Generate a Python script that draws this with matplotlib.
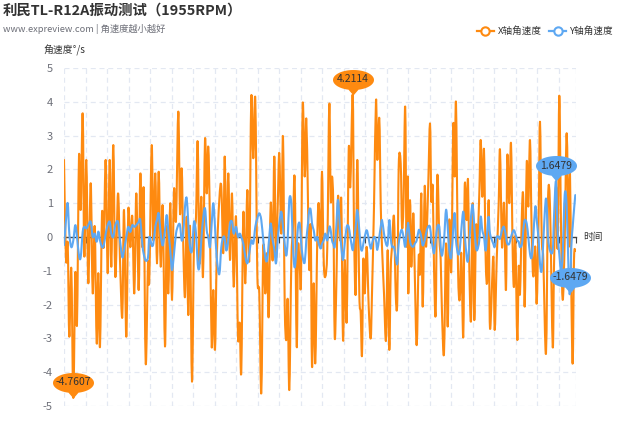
import numpy as np
import matplotlib
matplotlib.use("Agg")
import matplotlib.pyplot as plt
from matplotlib.path import Path
from matplotlib.patches import PathPatch
from matplotlib.lines import Line2D

plt.rcParams['font.family'] = ['Noto Sans CJK SC', 'DejaVu Sans']

title = "利民TL-R12A振动测试（1955RPM）"
subtitle = "www.expreview.com | 角速度越小越好"
series_names = ["X轴角速度", "Y轴角速度"]
y_name = "角速度°/s"
x_name = "时间"
y_ticks = [-5, -4, -3, -2, -1, 0, 1, 2, 3, 4, 5]
t_end = 512  # length of the recording, in samples

# sample time of each reading
t_vals = [
 0, 2, 3.7, 5.3, 7.3, 9.3, 11.3, 13, 15, 16.7,
 18.7, 20.3, 22.3, 24.3, 26.7, 28.7, 30.7, 32.7, 34.3, 36,
 38, 39.7, 41.7, 43.7, 45.7, 47.3, 49.3, 51.3, 54, 56,
 58.3, 60, 62.3, 64.3, 66.3, 68.3, 70.3, 72.3, 74.7, 76.3,
 78.3, 79.7, 81.7, 84, 85.3, 87.7, 89.3, 91.3, 93, 94.7,
 96.7, 98.7, 101, 102.7, 104.3, 106.3, 108, 110, 112, 114.3,
 116, 117.7, 119.3, 121, 122.7, 124.3, 126, 128, 130, 132,
 133.7, 135.3, 137.3, 139, 141, 142.7, 144.3, 146, 147.7, 149.3,
 151, 152.7, 155.3, 157.3, 159.3, 160.7, 162.3, 164.3, 166, 168,
 169.7, 172, 174, 175.7, 177.3, 179.3, 181.3, 183.3, 185.3, 187.3,
 189.3, 191.3, 193.3, 195.3, 197.3, 199.3, 201.3, 203, 204.7, 206.7,
 208.7, 210.3, 212, 213.7, 215.3, 217.3, 219, 220.7, 222.3, 223.7,
 225.3, 227.3, 229, 230.7, 232.7, 234, 235.7, 237, 238.7, 240.7,
 242.3, 244, 245.3, 246.7, 248, 249.7, 251.3, 253.3, 254.7, 256.7,
 258, 259.7, 261.3, 263.3, 265.3, 266.7, 268, 269.3, 270.7, 272.3,
 274, 276, 277.3, 279, 280.7, 282.7, 284.7, 286.3, 288.7, 290,
 291.7, 293.3, 295.3, 296.7, 298, 299.3, 300.7, 302.7, 304.7, 306.7,
 308, 310, 312, 313.3, 315.3, 316.7, 318, 320, 322, 323.7,
 325.3, 326.7, 328, 330, 331.7, 333.3, 334.7, 336.7, 338, 339.5,
 341.2, 342.5, 343.7, 344.3, 346, 347.3, 349.3, 350.7, 352.7, 354.7,
 356, 357.3, 358.7, 360.7, 362, 364, 366, 367.3, 368.7, 370,
 371.7, 373.3, 375.3, 376.7, 378, 380, 382, 383.7, 385.3, 387.3,
 389.3, 390.7, 392, 394, 395.7, 397.3, 399.3, 400.7, 402.7, 404,
 405.3, 407, 408.7, 410.3, 412, 413.3, 415.3, 416.7, 418.3, 420,
 421.7, 423.3, 424.7, 426, 429.3, 430.7, 432.7, 434.7, 436, 438,
 440, 442, 443.3, 445.3, 447, 448.7, 450, 451.3, 453.3, 454.7,
 456, 458, 459.3, 460.7, 462.7, 464.3, 466, 467.7, 469.3, 471.3,
 472.7, 474.7, 476, 477.7, 479.3, 482, 484, 486, 488.7, 490,
 492, 493.7, 495.3, 497, 498.7, 500.7, 502.7, 504.7, 506, 507.3,
 508.7, 510, 511.3,
]

x_vals = [
 2.28, -0.68, -0.2, -2.95, -0.93, -4.7607, -1.07, -2.55, 2.38, 0.8,
 3.66, -0.58, 2.28, -1.37, 1.59, -1.67, 0.31, -3.15, -1.07, -3.24,
 0.7, -0.3, 2.28, -1.07, 2.28, -0.88, 2.72, -1.17, 1.29, -0.68,
 -2.36, 0.8, -2.95, 0.8, -0.3, 0.6, -1.67, 1.29, -1.57, 1.88,
 -0.3, 1.39, -3.74, -0.78, -1.27, 2.72, -0.1, 1.88, -0.78, 1.93,
 -0.88, 0.9, -3.24, 0.31, -1.67, 1.0, -1.86, 1.39, 0.5, 3.71,
 0.7, 2.03, -0.29, -1.77, 0.6, -2.31, 0.31, -4.28, -0.1, 0.6,
 2.82, -0.78, 1.19, -1.17, 2.87, 1.29, 2.67, 0.3, -3.24, -1.57,
 -3.34, -0.68, 1.09, 1.49, -0.48, 2.38, -0.38, 1.88, -0.68, 1.29,
 -1.47, 0.6, -2.95, -2.55, -3.98, 0.7, -1.37, 1.39, -0.68, 4.13,
 2.33, 4.07, -1.07, -1.67, -4.63, -0.29, -1.67, -0.48, -2.36, 1.0,
 -0.68, 2.38, -0.58, 0.9, 2.48, 0.1, 2.97, -1.97, -3.05, -1.86,
 -4.53, -0.78, 0.31, 1.69, -3.24, -0.29, -0.88, -1.27, 3.91, 1.79,
 3.51, 1.0, -0.98, 0.31, -3.84, -1.37, -3.74, 0.0, 1.0, -0.29,
 1.93, -0.68, -1.17, -0.29, 3.95, 1.09, 1.79, 0.9, -2.95, -1.47,
 1.2, -0.1, 1.09, -3.05, -0.68, -2.46, 2.57, 1.49, 4.2114, 0.31,
 -1.67, 2.28, -1.67, -2.26, -3.49, -0.68, -1.67, -0.29, -2.06, -3.0,
 -1.67, 0.9, 4.05, 2.28, 3.51, 1.0, -0.29, -1.67, -3.05, -0.39,
 -3.34, -0.98, -0.29, 0.6, -1.67, -1.86, 2.08, 2.18, 0.31, 1.0,
 3.86, -0.29, 1.79, -1.67, 1.09, -0.88, 0.7, -0.98, -3.2, -0.58,
 -1.07, 1.29, -2.06, 1.49, -0.29, 1.29, 3.36, 1.09, 1.49, -0.88,
 -2.26, 1.79, 0.0, -0.68, -2.26, -3.44, -0.19, -2.65, 0.5, -0.98,
 3.31, 1.79, 3.95, -0.88, -1.86, -0.48, -2.95, 1.49, 0.5, 1.69,
 -0.88, -2.46, 1.0, -2.46, 0.31, -0.29, 1.29, 2.87, 1.19, 2.57,
 -0.68, -1.27, 1.09, -2.7, -0.58, -2.75, -0.68, 1.0, 2.57, -0.29,
 1.0, -1.57, 2.38, 1.0, 2.77, -0.48, -1.47, 0.0, -3.05, -0.88,
 -1.67, 0.8, 1.09, -2.06, 2.18, 0.9, 2.87, 0.1, -1.17, -0.29,
 -1.97, 0.7, 3.41, 0.0, -0.68, -3.44, 1.09, 0.9, -3.24, -0.88,
 1.49, -0.29, 4.18, 0.31, -1.86, -0.1, 3.07, -0.29, 1.88, -1.57,
 -3.74, -0.68, -0.4,
]

y_vals = [
 -0.24, 0.5, 1.0, 0.1, -0.3, -0.1, 0.35, 0.0, -0.55, -0.6,
 0.15, 0.3, 0.25, 0.35, 0.45, 0.0, 0.1, -0.14, 0.16, -0.1,
 -0.3, -0.25, 0.1, 0.35, 0.45, 0.1, 0.0, 0.35, 0.45, -0.1,
 -0.6, -0.4, 0.0, 0.3, 0.15, 0.35, 0.3, 0.35, 0.45, 0.5,
 -0.2, -0.5, -0.7, -0.6, 0.0, -0.25, -0.2, 0.3, 0.5, 0.7,
 0.1, -0.25, 0.2, 0.65, 0.2, -0.4, -0.98, -0.5, 0.1, 0.35,
 0.35, -0.1, 0.1, 0.9, 1.15, 0.4, -0.3, -0.4, 0.45, 0.1,
 -0.8, -0.9, -0.1, 0.5, 0.85, 0.2, 0.0, -0.3, 0.4, 1.0,
 0.3, -0.6, -1.1, -0.3, 0.0, -0.05, -0.4, -0.1, 0.4, 0.45,
 0.1, 0.3, 0.0, 0.1, 0.0, -0.2, -0.58, -0.78, -0.48, -0.1,
 -0.19, 0.3, 0.55, 0.7, 0.5, -0.1, -0.6, -0.7, -0.2, 0.4,
 -0.1, -0.35, -0.78, -0.1, 0.4, 0.75, 0.3, -0.2, -0.55, -0.1,
 1.1, 1.0, -0.3, -0.9, -0.3, 0.3, 0.4, -0.1, -0.6, -0.75,
 -0.1, 0.4, 0.8, 0.8, 0.4, 0.2, -0.1, 0.0, -0.2, -0.34,
 -0.2, -0.1, 0.1, -0.1, 0.3, 0.2, -0.1, -0.2, -0.29, 0.3,
 1.1, 0.2, -0.3, -0.68, -0.2, 0.3, 0.3, 0.0, -0.39, -0.1,
 0.3, 0.8, 0.2, -0.3, -0.4, -0.2, 0.0, 0.2, -0.05, -0.34,
 -0.2, 0.0, -0.1, -0.38, 0.0, 0.3, 0.5, 0.1, -0.2, -0.2,
 0.5, 0.0, -0.29, -0.3, -0.6, -0.8, -0.2, 0.15, 0.2, 0.0,
 -0.29, 0.1, 0.3, 0.4, -0.1, -0.25, -0.29, -0.2, -0.1, 0.2,
 0.15, 0.0, -0.25, -0.1, 0.1, 0.3, 0.3, -0.05, -0.3, -0.48,
 -0.1, 0.3, 0.3, -0.3, -0.55, -0.1, 0.8, 0.3, -0.4, -0.6,
 0.3, 0.7, -0.1, -0.5, -0.4, 0.2, 0.75, 0.1, -0.6, -0.7,
 -0.2, 0.6, 0.95, 0.3, -0.3, -0.38, -0.1, 0.6, 0.2, 0.0,
 -0.4, 0.2, 0.6, 0.1, -0.2, -0.29, 0.0, 0.0, -0.05, 0.2,
 0.3, 0.0, -0.2, -0.2, 0.0, 0.15, 0.2, 0.1, -0.1, -0.14,
 -0.3, -0.2, 0.2, 0.5, 0.4, 0.0, -0.5, -0.6, 0.0, 0.9,
 0.5, -0.1, -0.8, -1.0, -0.1, 1.14, 0.0, -0.4, -0.4, 0.6,
 1.6479, 0.1, -0.5, -1.0, -0.5, 1.25, 0.9, -1.2, -1.6479, -0.3,
 0.3, 0.8, 1.24,
]

ORANGE = '#fe8a10'
BLUE = '#5ea8f2'
GRID = '#e3e8f2'

fig = plt.figure(figsize=(6.4, 4.37), dpi=100)
ax = fig.add_axes([64/640, 1 - 406/437, (576 - 64)/640, (406 - 68)/437])


def smooth_path(t, v, k=1/6):
    P = np.column_stack([np.asarray(t, float), np.asarray(v, float)])
    n = len(P)
    verts = [P[0]]
    codes = [Path.MOVETO]
    for i in range(n - 1):
        p0 = P[i - 1] if i > 0 else P[i]
        p1, p2 = P[i], P[i + 1]
        p3 = P[i + 2] if i + 2 < n else P[i + 1]
        verts += [p1 + (p2 - p0) * k, p2 - (p3 - p1) * k, p2]
        codes += [Path.CURVE4] * 3
    return Path(verts, codes)


ax.add_patch(PathPatch(smooth_path(t_vals, x_vals), fill=False, edgecolor=ORANGE,
                       lw=1.5, zorder=3, joinstyle='round', capstyle='round'))
ax.add_patch(PathPatch(smooth_path(t_vals, y_vals), fill=False, edgecolor=BLUE,
                       lw=1.5, zorder=4, joinstyle='round', capstyle='round'))

ax.set_xlim(0, t_end)
ax.set_ylim(-5, 5)
ax.set_yticks(y_ticks)
ax.set_yticklabels([str(v) for v in y_ticks])
xt = list(np.arange(0, t_end - 5, 21.5)) + [t_end]
ax.set_xticks(xt)
ax.set_xticklabels([])

ax.grid(True, color=GRID, linestyle=(0, (4, 3)), linewidth=0.9, zorder=0)
for s in ['top', 'right', 'left']:
    ax.spines[s].set_visible(False)
ax.spines['bottom'].set_position(('data', 0))
ax.spines['bottom'].set_color('#444444')
ax.spines['bottom'].set_linewidth(1.0)
ax.spines['bottom'].set_zorder(2)
ax.tick_params(axis='x', direction='out', length=4, color='#444444', width=0.8)
ax.tick_params(axis='y', length=0, pad=8, labelsize=8, labelcolor='#6e7079')

# pin marker (balloon above the point, tip at the point)
rx, ry, cy = 20.5, 10.0, 15.5
xr = 5.0
yr = cy - ry * np.sqrt(1 - (xr / rx) ** 2)
t0 = np.arctan2((yr - cy) / ry, xr / rx)
ts = np.linspace(t0, -np.pi - t0 + 2 * np.pi, 80)
verts = [(0, 0), (xr, yr)] + [(rx * np.cos(a), cy + ry * np.sin(a)) for a in ts] + [(-xr, yr), (0, 0)]
codes = [Path.MOVETO] + [Path.LINETO] * (len(verts) - 2) + [Path.CLOSEPOLY]
pin = Path(verts, codes)
ms = 2 * (cy + ry) * 72 / 100


def add_pin(i, color, vals):
    v = vals[i]
    ax.plot([t_vals[i]], [v], marker=pin, markersize=ms, color=color, markeredgewidth=0,
            linestyle='none', zorder=6, clip_on=False)
    ax.annotate(f"{v:.4f}", (t_vals[i], v), xytext=(0, cy * 0.72), textcoords='offset points',
                ha='center', va='center', fontsize=7.5, color='#333333', zorder=7,
                annotation_clip=False)


xa = np.array(x_vals)
ya = np.array(y_vals)
add_pin(int(np.argmax(xa)), ORANGE, x_vals)
add_pin(int(np.argmin(xa)), ORANGE, x_vals)
add_pin(int(np.argmax(ya)), BLUE, y_vals)
add_pin(int(np.argmin(ya)), BLUE, y_vals)

ax.annotate(x_name, (t_end, 0), xytext=(5, 0), textcoords='offset points',
            ha='left', va='center', fontsize=7, color='#333333', annotation_clip=False)

fig.text(64/640, 1 - 50/437, y_name, ha='center', va='center', fontsize=7.1, color='#333333')
fig.text(3/640, 1 - 11/437, title, ha='left', va='center', fontsize=10.4, fontweight='bold', color='#333333')
fig.text(3/640, 1 - 29/437, subtitle, ha='left', va='center', fontsize=6.7, color='#6e7079')

handles = [Line2D([], [], color=ORANGE, lw=1.6, marker='o', markersize=6,
                  markerfacecolor='white', markeredgecolor=ORANGE, markeredgewidth=1.5),
           Line2D([], [], color=BLUE, lw=1.6, marker='o', markersize=6,
                  markerfacecolor='white', markeredgecolor=BLUE, markeredgewidth=1.5)]
leg = fig.legend(handles, series_names, loc='center right', bbox_to_anchor=(614/640, 1 - 31/437),
                 ncol=2, frameon=False, fontsize=6.9, handlelength=1.75, handletextpad=0.45,
                 columnspacing=0.75, borderaxespad=0, borderpad=0)
for txt in leg.get_texts():
    txt.set_color('#333333')

fig.savefig('out.png', dpi=100)
